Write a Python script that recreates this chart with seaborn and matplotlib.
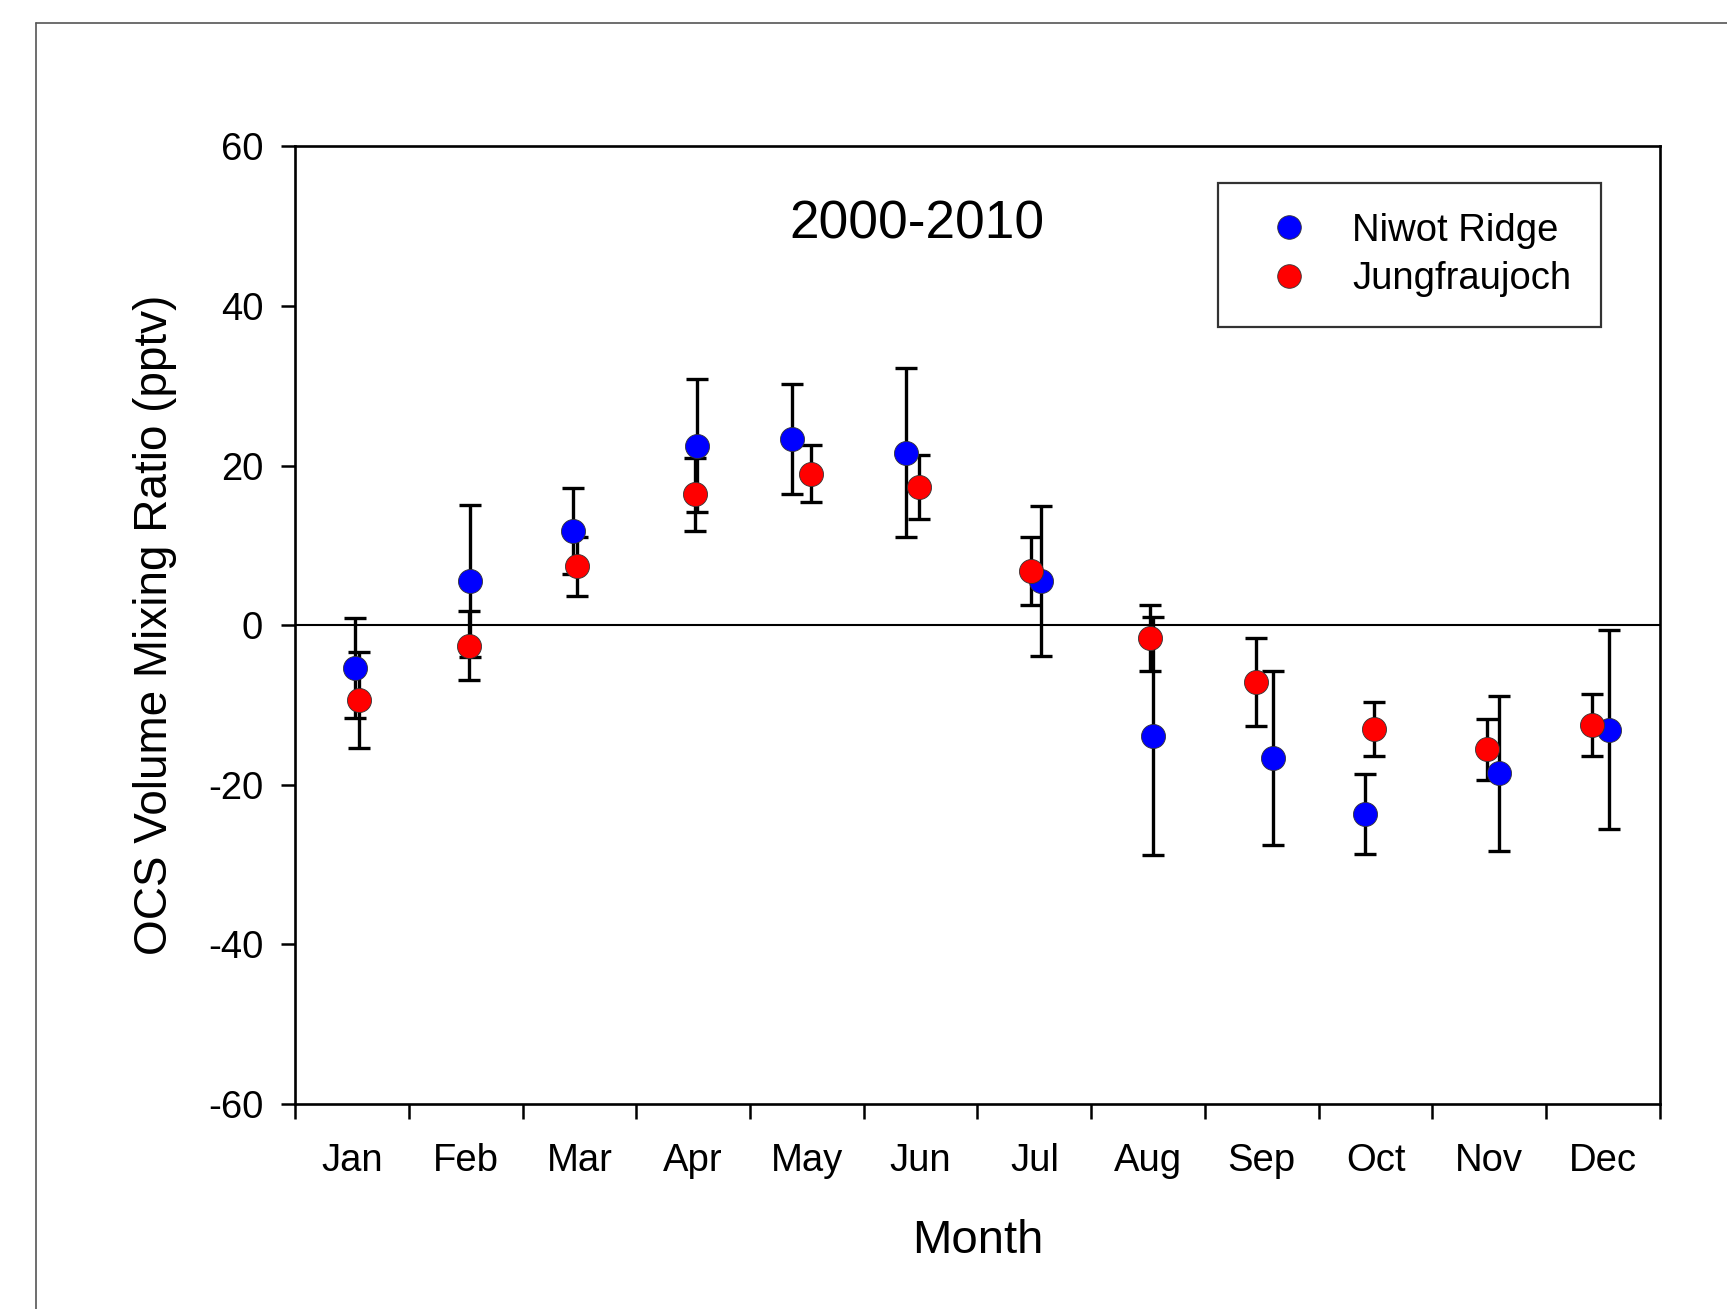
import numpy as np
import pandas as pd
import matplotlib
matplotlib.use("Agg")
import matplotlib.pyplot as plt
from matplotlib.lines import Line2D
import seaborn as sns

# ── data ───────────────────────────────────────────────
months = ["Jan", "Feb", "Mar", "Apr", "May", "Jun",
          "Jul", "Aug", "Sep", "Oct", "Nov", "Dec"]

# x in month units (Jan spans 0..1)
niwot_x = [0.53, 1.54, 2.44, 3.53, 4.37, 5.37, 6.56, 7.54, 8.60, 9.41, 10.59, 11.55]
niwot_y = [-5.4, 5.5, 11.8, 22.5, 23.3, 21.6, 5.5, -13.9, -16.7, -23.7, -18.6, -13.1]
niwot_err = [6.3, 9.5, 5.4, 8.3, 6.9, 10.6, 9.4, 14.9, 10.9, 5.0, 9.7, 12.5]

jungfrau_x = [0.56, 1.53, 2.48, 3.52, 4.54, 5.49, 6.47, 7.52, 8.45, 9.49, 10.48, 11.40]
jungfrau_y = [-9.4, -2.6, 7.4, 16.4, 19.0, 17.3, 6.8, -1.6, -7.1, -13.0, -15.6, -12.5]
jungfrau_err = [6.0, 4.35, 3.7, 4.55, 3.6, 4.05, 4.3, 4.1, 5.5, 3.4, 3.8, 3.9]

stations = ["Niwot Ridge", "Jungfraujoch"]
colors = ["#0000FF", "#FF0000"]

df = pd.concat([
    pd.DataFrame({"x": niwot_x, "y": niwot_y, "err": niwot_err, "site": stations[0]}),
    pd.DataFrame({"x": jungfrau_x, "y": jungfrau_y, "err": jungfrau_err, "site": stations[1]}),
], ignore_index=True)

# ── style ──────────────────────────────────────────────
sns.set_style("white")
plt.rcParams["font.family"] = ["Liberation Sans", "DejaVu Sans"]
plt.rcParams["axes.unicode_minus"] = False
for key in ["text.color", "axes.labelcolor", "xtick.color", "ytick.color"]:
    plt.rcParams[key] = "black"

fig = plt.figure(figsize=(17.27, 13.09), dpi=100)
ax = fig.add_axes([0.1709, 0.1569, 0.7902, 0.7312])

# error bars first, then the dots per station
for site, col in zip(stations, colors):
    sub = df[df["site"] == site]
    ax.errorbar(sub["x"], sub["y"], yerr=sub["err"], fmt="none",
                ecolor="black", elinewidth=2.4, capsize=8, capthick=2.4, zorder=2)
    sns.scatterplot(data=sub, x="x", y="y", color=col, s=300,
                    edgecolor="#333333", linewidth=0.6, legend=False,
                    ax=ax, zorder=3)

ax.axhline(0, color="black", lw=1.5, zorder=1)

# axes
ax.set_xlim(0, 12)
ax.set_ylim(-60, 60)
ax.set_yticks(np.arange(-60, 61, 20))
ax.set_xticks(np.arange(0, 13, 1))
ax.set_xticklabels([])
ax.set_xticks(np.arange(12) + 0.5, minor=True)
ax.set_xticklabels(months, minor=True)

ax.tick_params(axis="x", which="major", direction="out", length=10.5, width=1.8,
               bottom=True, top=False)
ax.tick_params(axis="x", which="minor", length=0, pad=28, labelsize=27.5)
ax.tick_params(axis="y", which="major", direction="out", length=10, width=1.8,
               left=True, right=False, pad=13, labelsize=27.5)

for sp in ax.spines.values():
    sp.set_color("black")
    sp.set_linewidth(1.9)

ax.set_xlabel("Month", fontsize=34)
ax.xaxis.label.set_va("baseline")
ax.xaxis.set_label_coords(0.5, -0.1565)
ax.set_ylabel("OCS Volume Mixing Ratio (pptv)", fontsize=33)
ax.yaxis.label.set_va("center")
ax.yaxis.set_label_coords(-0.1026, 0.5)

ax.text(0.456, 0.919, "2000-2010", transform=ax.transAxes,
        ha="center", va="center", fontsize=38.3)

# legend
handles = [Line2D([], [], ls="none", marker="o", markersize=17,
                  markerfacecolor=c, markeredgecolor="#333333", markeredgewidth=0.6)
           for c in colors]
leg = ax.legend(handles, stations, loc="upper right",
                bbox_to_anchor=(0.9569, 0.9616), borderaxespad=0,
                fontsize=27.5, frameon=True, fancybox=False,
                borderpad=0.77, labelspacing=0.33, handlelength=2.17,
                handletextpad=0.58)
leg.get_frame().set_edgecolor("black")
leg.get_frame().set_linewidth(1.6)

# outer frame of the original page, cropped on the right/bottom
fig.add_artist(Line2D([0.0207, 0.0207], [0, 0.9827], color="#555555", lw=1.2))
fig.add_artist(Line2D([0.0207, 1.0], [0.9827, 0.9827], color="#555555", lw=1.2))

plt.savefig("out.png", dpi=100)
